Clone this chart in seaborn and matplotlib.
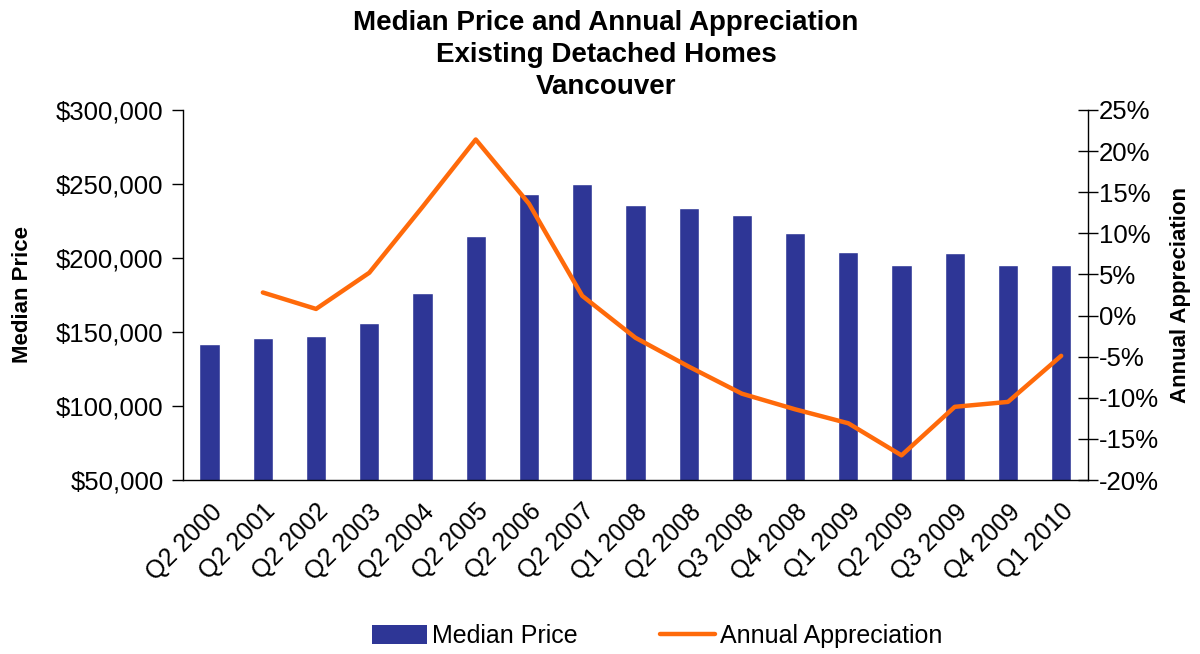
import numpy as np
import pandas as pd
import matplotlib
matplotlib.use("Agg")
import matplotlib.pyplot as plt
from matplotlib.patches import Patch
from matplotlib.lines import Line2D
from matplotlib.ticker import FuncFormatter, MultipleLocator, FixedLocator
import seaborn as sns

# Données
quarters = ["Q2 2000", "Q2 2001", "Q2 2002", "Q2 2003", "Q2 2004", "Q2 2005",
            "Q2 2006", "Q2 2007", "Q1 2008", "Q2 2008", "Q3 2008", "Q4 2008",
            "Q1 2009", "Q2 2009", "Q3 2009", "Q4 2009", "Q1 2010"]
median_price = [142000, 146000, 147500, 156000, 176000, 215000,
                243000, 250000, 236000, 234000, 229000, 217000,
                204000, 195000, 203000, 195000, 195000]
appreciation = [np.nan, 2.8, 0.8, 5.2, 13.2, 21.4,
                13.6, 2.4, -2.7, -6.2, -9.5, -11.4,
                -13.1, -17.0, -11.1, -10.5, -4.9]

bar_color = "#2E3696"
line_color = "#FF6A0A"

df = pd.DataFrame({"quarter": quarters, "price": median_price, "appr": appreciation})
df["pos"] = np.arange(len(df))

sns.set_style("white")
plt.rcParams["font.family"] = ["Liberation Sans", "DejaVu Sans"]
plt.rcParams["text.color"] = "black"
plt.rcParams["axes.labelcolor"] = "black"
plt.rcParams["xtick.color"] = "black"
plt.rcParams["ytick.color"] = "black"

fig = plt.figure(figsize=(12, 6.54), dpi=100)
ax = fig.add_axes([0.1525, 0.266, 0.754, 0.566])

sns.barplot(data=df, x="quarter", y="price", color=bar_color, width=0.38,
            saturation=1, ax=ax, zorder=2)
ax.set_ylim(50000, 300000)
ax.set_xlim(-0.5, len(df) - 0.5)
ax.yaxis.set_major_locator(MultipleLocator(50000))
ax.yaxis.set_major_formatter(FuncFormatter(lambda v, p: f"${v:,.0f}"))
ax.set_xlabel("")
ax.set_ylabel("Median Price", fontsize=16, fontweight="bold")
ax.yaxis.set_label_coords(-0.166, 0.5)

# x : étiquettes au centre, traits entre les catégories
ax.set_xticks(df["pos"])
ax.set_xticklabels(quarters, rotation=45, ha="right", rotation_mode="anchor", fontsize=18)
ax.xaxis.set_minor_locator(FixedLocator(np.arange(-0.5, len(df), 1.0)))
ax.tick_params(axis="x", which="major", length=0, pad=14)
ax.tick_params(axis="x", which="minor", direction="inout", length=14, width=1, color="black")
ax.tick_params(axis="y", direction="out", length=8, width=1, color="black",
               labelsize=18.5, pad=6, left=True)

ax2 = ax.twinx()
sns.lineplot(data=df, x="pos", y="appr", color=line_color, linewidth=3.2, ax=ax2)
ax2.set_ylim(-20, 25)
ax2.yaxis.set_major_locator(MultipleLocator(5))
ax2.yaxis.set_major_formatter(FuncFormatter(lambda v, p: f"{v:.0f}%"))
ax2.set_ylabel("Annual Appreciation", fontsize=16, fontweight="bold")
ax2.yaxis.set_label_coords(1.091, 0.5)
ax2.tick_params(axis="y", direction="inout", length=14, width=1, color="black",
                labelsize=18.5, pad=1, right=True)
ax2.set_xlim(-0.5, len(df) - 0.5)

for a in (ax, ax2):
    a.spines["top"].set_visible(False)
    for s in ("left", "right", "bottom"):
        a.spines[s].set_color("black")
        a.spines[s].set_linewidth(1)
ax.spines["right"].set_visible(False)
ax2.spines["left"].set_visible(False)
ax2.spines["bottom"].set_visible(False)

fig.suptitle("Median Price and Annual Appreciation\nExisting Detached Homes\nVancouver",
             x=0.505, y=0.985, fontsize=20, fontweight="bold", linespacing=1.3)

handles = [Patch(facecolor=bar_color, edgecolor="none"),
           Line2D([0], [0], color=line_color, linewidth=3.2)]
fig.legend(handles, ["Median Price", "Annual Appreciation"], loc="lower center",
           bbox_to_anchor=(0.548, -0.025), ncol=2, frameon=False, fontsize=18,
           handlelength=2.2, handleheight=0.8, columnspacing=3.3, handletextpad=0.2)

fig.savefig("out.png", dpi=100)
